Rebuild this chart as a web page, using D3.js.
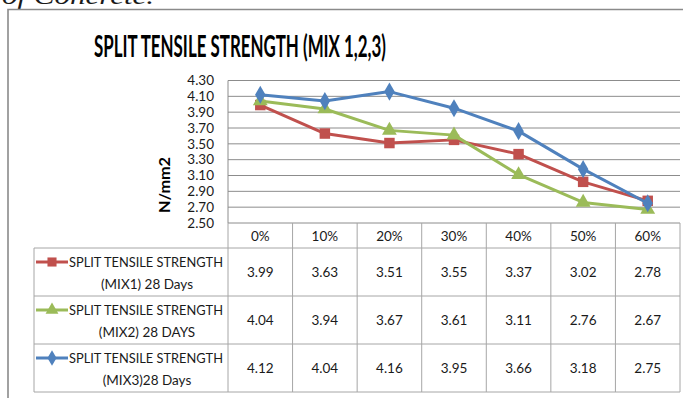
<!DOCTYPE html>
<html>
<head>
<meta charset="utf-8">
<script src="https://cdn.jsdelivr.net/npm/d3@7"></script>
<style>
  html, body { margin: 0; padding: 0; background: #fff; }
  svg { display: block; }
  text { font-family: Lato, "Open Sans", sans-serif; fill: #1a1a1a; }
</style>
</head>
<body>
<svg id="chart" width="683" height="398"></svg>
<script>
// Replacement percentages (x categories)
const categories = ["0%", "10%", "20%", "30%", "40%", "50%", "60%"];
// Split tensile strength, N/mm2, at 28 days
const mix1 = [3.99, 3.63, 3.51, 3.55, 3.37, 3.02, 2.78];
const mix2 = [4.04, 3.94, 3.67, 3.61, 3.11, 2.76, 2.67];
const mix3 = [4.12, 4.04, 4.16, 3.95, 3.66, 3.18, 2.75];
const seriesNames = [
  ["SPLIT TENSILE STRENGTH", "(MIX1) 28 Days"],
  ["SPLIT TENSILE STRENGTH", "(MIX2) 28 DAYS"],
  ["SPLIT TENSILE STRENGTH", "(MIX3)28 Days"]
];
const yTicks = [2.50, 2.70, 2.90, 3.10, 3.30, 3.50, 3.70, 3.90, 4.10, 4.30];

const series = [
  { name: seriesNames[0], values: mix1, color: "#C0504D", symbol: d3.symbolSquare, size: 110 },
  { name: seriesNames[1], values: mix2, color: "#9BBB59", symbol: d3.symbolTriangle, size: 95 },
  { name: seriesNames[2], values: mix3, color: "#4F81BD", symbol: d3.symbolDiamond, size: 95 }
];

const svg = d3.select("#chart");

// caption line of the surrounding document, cut at the top
svg.append("text")
  .attr("x", 2).attr("y", 4)
  .attr("textLength", 152).attr("lengthAdjust", "spacingAndGlyphs")
  .style("font-family", "'Liberation Serif', serif")
  .style("font-style", "italic")
  .style("font-size", "24px")
  .text("of Concrete.");

// chart frame
svg.append("path")
  .attr("d", "M8,402 V9.5 H690")
  .attr("fill", "none")
  .attr("stroke", "#8a8a8a")
  .attr("stroke-width", 1.6);

// title
svg.append("text")
  .attr("x", 94).attr("y", 57)
  .attr("textLength", 292).attr("lengthAdjust", "spacingAndGlyphs")
  .style("font-size", "30px").style("font-weight", "bold")
  .style("fill", "#000")
  .text("SPLIT TENSILE STRENGTH (MIX 1,2,3)");

const plot = { left: 228, right: 680, top: 80.5, bottom: 223 };

const x = d3.scaleBand().domain(categories).range([plot.left, plot.right]);
const y = d3.scaleLinear().domain([2.5, 4.3]).range([plot.bottom, plot.top]);

// horizontal gridlines
svg.append("g")
  .selectAll("line")
  .data(yTicks)
  .join("line")
  .attr("x1", plot.left).attr("x2", plot.right)
  .attr("y1", d => y(d)).attr("y2", d => y(d))
  .attr("stroke", "#8c8c8c").attr("stroke-width", 1);

// y axis line
svg.append("line")
  .attr("x1", plot.left).attr("x2", plot.left)
  .attr("y1", plot.top).attr("y2", plot.bottom)
  .attr("stroke", "#8c8c8c");

// y tick labels
const yAxis = d3.axisLeft(y).tickValues(yTicks).tickFormat(d3.format(".2f")).tickSize(0).tickPadding(14);
const yg = svg.append("g").attr("transform", `translate(${plot.left},0)`).call(yAxis);
yg.select(".domain").remove();
yg.selectAll("text").style("font-size", "13.5px").style("font-family", "Lato, sans-serif").attr("fill", "#1a1a1a");

// y axis title
svg.append("text")
  .attr("transform", "translate(170,185) rotate(-90)")
  .attr("text-anchor", "middle")
  .attr("textLength", 56).attr("lengthAdjust", "spacingAndGlyphs")
  .style("font-size", "15px").style("font-weight", "bold")
  .style("fill", "#000")
  .text("N/mm2");

// series lines and markers
const line = d3.line().x((d, i) => x(categories[i]) + x.bandwidth() / 2).y(d => y(d));
series.forEach(s => {
  svg.append("path")
    .datum(s.values)
    .attr("d", line)
    .attr("fill", "none")
    .attr("stroke", s.color)
    .attr("stroke-width", 3)
    .attr("stroke-linejoin", "round");
  svg.append("g")
    .selectAll("path")
    .data(s.values)
    .join("path")
    .attr("transform", (d, i) => `translate(${x(categories[i]) + x.bandwidth() / 2},${y(d)})`)
    .attr("d", d3.symbol().type(s.symbol).size(s.size))
    .attr("fill", s.color);
});

// data table
const table = { left: 34, headerTop: plot.bottom, headerBottom: 248, rowH: 48 };
const rowTop = i => table.headerBottom + i * table.rowH;
const tableBottom = rowTop(series.length);
const grid = "#a6a6a6";
const fs = "13.5px";

// vertical column lines
const colEdges = categories.map(c => x(c)).concat([plot.right]);
svg.append("g")
  .selectAll("line")
  .data(colEdges)
  .join("line")
  .attr("x1", d => d).attr("x2", d => d)
  .attr("y1", table.headerTop).attr("y2", tableBottom)
  .attr("stroke", grid);
svg.append("line")
  .attr("x1", table.left).attr("x2", table.left)
  .attr("y1", table.headerBottom).attr("y2", tableBottom)
  .attr("stroke", grid);

// horizontal row lines
svg.append("g")
  .selectAll("line")
  .data(d3.range(series.length + 1))
  .join("line")
  .attr("x1", table.left).attr("x2", plot.right)
  .attr("y1", i => rowTop(i)).attr("y2", i => rowTop(i))
  .attr("stroke", grid);

// category header
svg.append("g")
  .selectAll("text")
  .data(categories)
  .join("text")
  .attr("x", d => x(d) + x.bandwidth() / 2)
  .attr("y", (table.headerTop + table.headerBottom) / 2 + 5)
  .attr("text-anchor", "middle")
  .style("font-size", fs)
  .text(d => d);

// rows: legend key and values
series.forEach((s, r) => {
  const top = rowTop(r);
  const g = svg.append("g");
  const keyY = top + 14;
  g.append("line")
    .attr("x1", 36).attr("x2", 68)
    .attr("y1", keyY).attr("y2", keyY)
    .attr("stroke", s.color).attr("stroke-width", 3);
  g.append("path")
    .attr("transform", `translate(52,${keyY})`)
    .attr("d", d3.symbol().type(s.symbol).size(s.size * 0.75))
    .attr("fill", s.color);
  g.append("text")
    .attr("x", 69).attr("y", top + 19)
    .attr("textLength", 154).attr("lengthAdjust", "spacingAndGlyphs")
    .style("font-size", fs)
    .text(s.name[0]);
  g.append("text")
    .attr("x", 147).attr("y", top + 40.5)
    .attr("text-anchor", "middle")
    .style("font-size", fs)
    .text(s.name[1]);
  g.selectAll("text.v")
    .data(s.values)
    .join("text")
    .attr("class", "v")
    .attr("x", (d, i) => x(categories[i]) + x.bandwidth() / 2)
    .attr("y", top + table.rowH / 2 + 5)
    .attr("text-anchor", "middle")
    .style("font-size", fs)
    .text(d => d3.format(".2f")(d));
});
</script>
</body>
</html>
